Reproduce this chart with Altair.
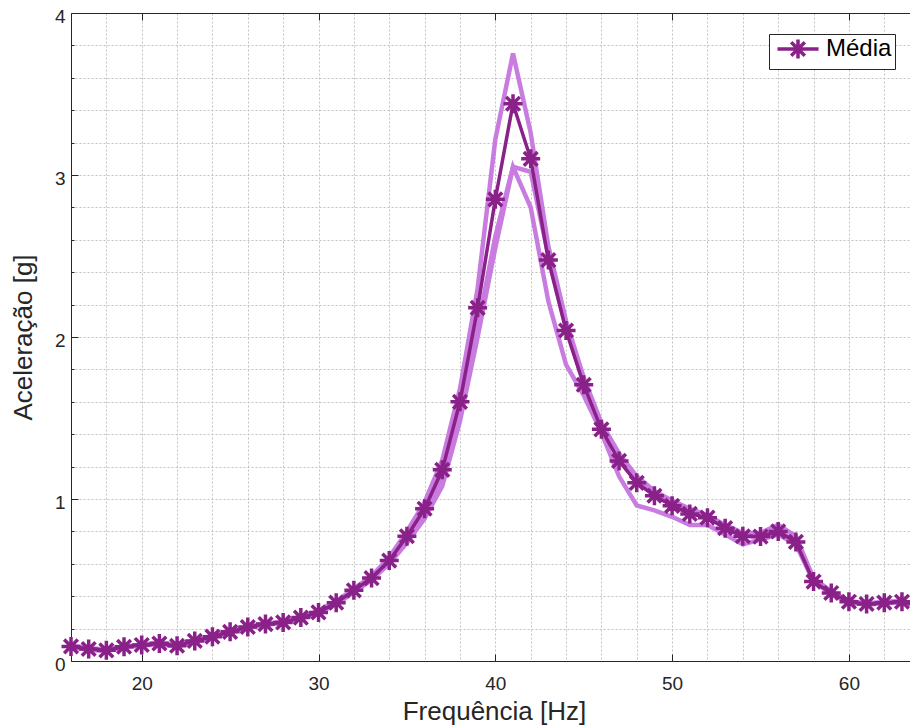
import altair as alt
import pandas as pd

# ---------------- data ----------------
freq = list(range(16, 65))

media = [0.090, 0.074, 0.066, 0.088, 0.099, 0.108, 0.094, 0.124, 0.150, 0.180,
         0.210, 0.228, 0.238, 0.268, 0.300, 0.360, 0.436, 0.512, 0.620, 0.770,
         0.940, 1.180, 1.600, 2.180, 2.850, 3.440, 3.100, 2.475, 2.040, 1.705,
         1.430, 1.235, 1.100, 1.020, 0.958, 0.908, 0.885, 0.820, 0.770, 0.768,
         0.800, 0.735, 0.490, 0.420, 0.366, 0.352, 0.360, 0.366, 0.342]

ensaio_1 = [0.095, 0.080, 0.070, 0.090, 0.100, 0.115, 0.100, 0.130, 0.155, 0.185,
            0.215, 0.232, 0.242, 0.275, 0.310, 0.370, 0.445, 0.525, 0.640, 0.800,
            0.980, 1.240, 1.680, 2.300, 3.220, 3.750, 3.260, 2.560, 2.100, 1.750,
            1.470, 1.280, 1.140, 1.050, 0.990, 0.940, 0.900, 0.840, 0.790, 0.790,
            0.840, 0.770, 0.510, 0.430, 0.370, 0.355, 0.365, 0.370, 0.345]

ensaio_2 = [0.088, 0.072, 0.064, 0.087, 0.098, 0.106, 0.092, 0.122, 0.148, 0.178,
            0.208, 0.226, 0.236, 0.265, 0.298, 0.355, 0.430, 0.505, 0.610, 0.750,
            0.910, 1.140, 1.540, 2.060, 2.620, 3.050, 3.020, 2.500, 2.060, 1.720,
            1.450, 1.250, 1.110, 1.030, 0.970, 0.920, 0.890, 0.830, 0.770, 0.770,
            0.800, 0.740, 0.495, 0.420, 0.365, 0.350, 0.360, 0.365, 0.340]

ensaio_3 = [0.085, 0.070, 0.062, 0.085, 0.096, 0.104, 0.090, 0.120, 0.145, 0.175,
            0.205, 0.224, 0.234, 0.262, 0.295, 0.350, 0.425, 0.500, 0.600, 0.730,
            0.880, 1.080, 1.480, 2.000, 2.550, 3.050, 2.800, 2.220, 1.830, 1.640,
            1.410, 1.140, 0.960, 0.930, 0.890, 0.840, 0.840, 0.780, 0.720, 0.750,
            0.780, 0.720, 0.490, 0.415, 0.360, 0.348, 0.356, 0.362, 0.338]

x_ticks = list(range(16, 64, 2))
y_ticks = [round(i * 0.2, 1) for i in range(0, 21)]

# ---------------- tables ----------------
rows = []
for nome, vals in [("Ensaio 1", ensaio_1), ("Ensaio 2", ensaio_2), ("Ensaio 3", ensaio_3)]:
    for f, v in zip(freq, vals):
        rows.append({"freq": f, "acc": v, "ensaio": nome})
light_df = pd.DataFrame(rows)
mean_df = pd.DataFrame({"freq": freq, "acc": media, "serie": ["Média"] * len(freq)})

DARK = "#8a2189"
LIGHT = "#c97ce0"
AXC = "#262626"
FONT = "Liberation Sans"
STAR = "M-1,0L1,0M0,-1L0,1M-0.72,-0.72L0.72,0.72M-0.72,0.72L0.72,-0.72"
LEG = "M-2.16,0L2.16,0M0,-1L0,1M-0.72,-0.72L0.72,0.72M-0.72,0.72L0.72,-0.72"

W, H = 839, 648
X_MAX = 16 + W / 17.68   # the reference frame runs a little past the right edge

x_scale = alt.Scale(domain=[16, X_MAX], nice=False, zero=False)
y_scale = alt.Scale(domain=[0, 4], nice=False, zero=False)

x_major = "datum.value % 10 === 0"
y_major = "abs(datum.value - round(datum.value)) < 0.0001"

common = dict(domainColor=AXC, domainWidth=1, tickColor=AXC, tickWidth=1,
              labelFont=FONT, labelFontSize=19, labelColor=AXC,
              titleFont=FONT, titleFontSize=26, titleColor=AXC, titleFontWeight="normal")

x_bottom = alt.Axis(values=x_ticks, orient="bottom", grid=True, gridColor="#c2c2c2",
                    gridDash=[2, 2], gridWidth=1,
                    labelExpr=f"{x_major} ? format(datum.value, 'd') : ''",
                    tickSize={"condition": {"test": x_major, "value": -7}, "value": 0},
                    labelPadding=20, title="Frequência [Hz]",
                    titleX=(71 + 918) / 2 - 71 - 0.5, titleY=58, titleBaseline="alphabetic",
                    **common)
y_left = alt.Axis(values=y_ticks, orient="left", grid=True, gridColor="#c2c2c2",
                  gridDash=[2, 2], gridWidth=1,
                  labelExpr=f"{y_major} ? format(datum.value, 'd') : ''",
                  tickSize={"condition": {"test": y_major, "value": -7}, "value": -3},
                  labelPadding=13, labelOffset=3, title="Aceleração [g]",
                  titleX=-40, titleY=H / 2, titleBaseline="alphabetic", **common)
x_top = alt.Axis(values=x_ticks, orient="top", grid=False, labels=False, title=None,
                 tickSize={"condition": {"test": x_major, "value": -7}, "value": 0},
                 domainColor=AXC, domainWidth=1, tickColor=AXC, tickWidth=1)

light = alt.Chart(light_df).mark_line(color=LIGHT, strokeWidth=4.5, strokeJoin="miter").encode(
    x=alt.X("freq:Q", scale=x_scale, axis=x_bottom),
    y=alt.Y("acc:Q", scale=y_scale, axis=y_left),
    detail="ensaio:N",
)

color = alt.Color("serie:N", scale=alt.Scale(domain=["Média"], range=[DARK]),
                  legend=alt.Legend(orient="none", legendX=698, legendY=21, title=None,
                                    symbolType=LEG, symbolSize=361, symbolStrokeWidth=3.5,
                                    symbolStrokeColor=DARK, symbolFillColor="transparent",
                                    symbolOffset=14, labelOffset=16,
                                    labelFont=FONT, labelFontSize=24, labelColor="#000000",
                                    strokeColor=AXC, fillColor="white", padding=3,
                                    cornerRadius=0))

mean_line = alt.Chart(mean_df).mark_line(strokeWidth=3.5).encode(
    x=alt.X("freq:Q", scale=x_scale, axis=None),
    y=alt.Y("acc:Q", scale=y_scale, axis=None),
    color=color,
)

mean_pts = alt.Chart(mean_df).mark_point(shape=STAR, filled=False, size=361,
                                         strokeWidth=3.5, opacity=1).encode(
    x=alt.X("freq:Q", scale=x_scale, axis=x_top),
    y=alt.Y("acc:Q", scale=y_scale, axis=None),
    color=color,
)

chart = alt.layer(light, mean_line, mean_pts).resolve_axis(
    x="independent", y="independent"
).properties(
    width=W, height=H,
    autosize=alt.AutoSizeParams(type="none"),
    padding={"left": 63, "top": 5, "right": 0, "bottom": 64},
).configure_view(stroke=None)

chart.save("out.html", embed_options={"renderer": "svg", "actions": False})
